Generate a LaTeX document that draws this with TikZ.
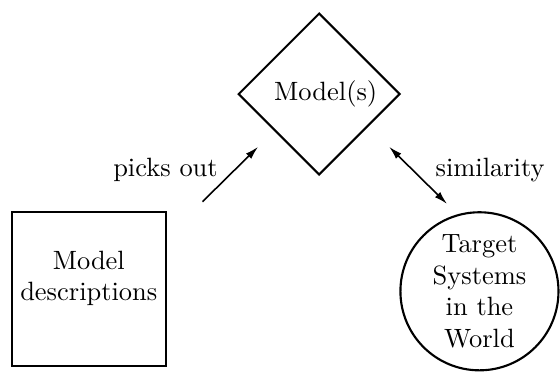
\documentclass[tikz,border=0pt]{standalone}
\usetikzlibrary{arrows.meta,shapes.geometric}

\begin{document}
\begin{tikzpicture}[
    >={Latex[length=5pt,width=2.8pt]},
    box/.style={draw, thick, minimum size=2.05cm, inner sep=0pt, align=center},
    model/.style={draw, thick, diamond, minimum size=2.15cm, inner sep=0pt},
    world/.style={draw, thick, circle, minimum size=2.1cm, inner sep=0pt, align=center},
    link/.style={semithick},
    tag/.style={inner sep=0pt},
  ]
  \useasboundingbox (0,0) rectangle (7.44,4.93);

  %%% shapes
  \node[model] (models) at (4.24,3.68) {\hspace*{5pt}Model(s)};
  \node[box, text depth=10pt] (desc) at (1.18,1.09) {Model\\descriptions};
  \node[world] (target) at (6.37,1.06) {Target\\Systems\\in the\\World};

  %%% arrows and their words
  \coordinate (pick-a) at (2.69,2.25);
  \coordinate (pick-b) at (3.43,2.98);
  \coordinate (sim-a) at (5.17,2.98);
  \coordinate (sim-b) at (5.94,2.22);

  \draw[link, ->] (pick-a) -- (pick-b);
  \draw[link, <->] (sim-a) -- (sim-b);

  \node[tag, anchor=base east] (pick-txt) at (2.90,2.59) {picks out};
  \node[tag, anchor=base west] (sim-txt) at (5.78,2.59) {similarity};
\end{tikzpicture}
\end{document}
